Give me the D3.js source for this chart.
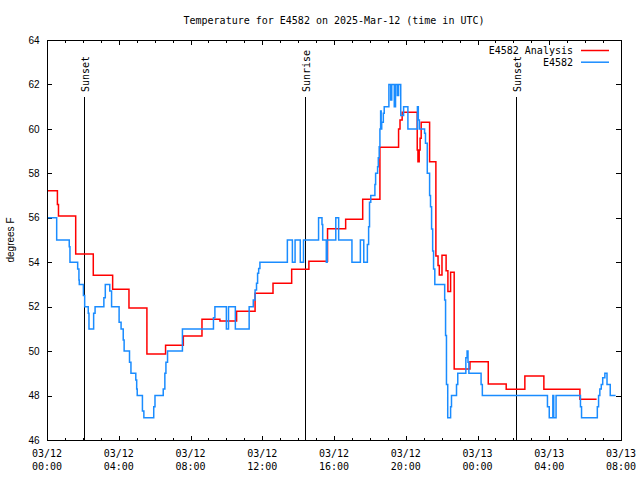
<!DOCTYPE html>
<html>
<head>
<meta charset="utf-8">
<script src="https://cdn.jsdelivr.net/npm/d3@7"></script>
<style>
  html, body { margin: 0; padding: 0; background: #fff; }
  svg { display: block; }
</style>
</head>
<body>
<svg id="chart" width="640" height="480"></svg>
<script>
// ---------------- data ----------------
const chartTitle = "Temperature for E4582 on 2025-Mar-12 (time in UTC)";
const yLabel = "degrees F";
const seriesNames = ["E4582 Analysis", "E4582"];
const seriesColors = ["#ff0000", "#1a8cff"];
const yTicks = [46, 48, 50, 52, 54, 56, 58, 60, 62, 64];
const xTickHours = [0, 4, 8, 12, 16, 20, 24, 28, 32];

// hours after 2025-03-12 00:00 UTC
const analysisHours = [0, 0.58, 0.64, 1.6, 2.58, 3.66, 4.57, 5.57, 6.61, 7.6, 8.64, 9.64, 10.57, 11.6, 12.6, 13.64, 14.6, 15.64, 16.65, 17.6, 18.56, 19.6, 19.68, 19.8, 20.64, 20.68, 20.75, 20.8, 20.86, 21.33, 21.68, 21.8, 21.87, 22.02, 22.25, 22.35, 22.5, 22.7, 23.58, 24.6, 25.6, 26.64, 27.7, 29.71, 30.64];
const analysisTemps = [57.22, 56.6, 56.08, 54.37, 53.41, 52.78, 51.94, 49.87, 50.26, 50.68, 51.43, 51.36, 51.79, 52.6, 53.05, 53.68, 54.04, 55.51, 55.93, 56.83, 59.17, 60.0, 60.4, 60.75, 59.05, 58.52, 59.05, 59.58, 60.3, 58.52, 54.28, 53.85, 53.43, 54.31, 53.62, 52.68, 53.55, 49.2, 49.52, 48.52, 48.28, 48.88, 48.28, 47.83, 47.83];

const obsHours = [0, 0.54, 1.24, 1.28, 1.71, 1.78, 1.8, 2.03, 2.1, 2.3, 2.34, 2.6, 2.68, 3.17, 3.25, 3.5, 3.6, 4.02, 4.13, 4.25, 4.3, 4.6, 4.68, 4.95, 5.0, 5.03, 5.32, 5.4, 5.95, 6.02, 6.48, 6.57, 6.63, 6.72, 7.55, 9.28, 9.36, 10.0, 10.12, 10.5, 11.27, 11.5, 11.6, 11.68, 11.74, 11.8, 11.87, 13.4, 13.68, 13.83, 14.12, 14.3, 15.14, 15.33, 15.37, 15.57, 15.62, 16.1, 16.26, 17.0, 17.47, 17.66, 17.86, 17.93, 17.98, 18.05, 18.28, 18.32, 18.43, 18.47, 18.52, 18.56, 18.6, 18.63, 18.66, 18.75, 18.8, 19.06, 19.16, 19.22, 19.36, 19.43, 19.53, 19.6, 19.72, 19.88, 20.12, 20.65, 20.7, 20.76, 21.05, 21.1, 21.2, 21.33, 21.38, 21.44, 21.5, 21.55, 21.62, 22.17, 22.22, 22.27, 22.34, 22.5, 22.55, 22.83, 22.9, 23.35, 23.42, 23.47, 23.52, 24.2, 24.27, 27.9, 28.0, 28.2, 28.25, 28.38, 29.74, 29.8, 30.68, 30.75, 30.82, 30.9, 30.98, 31.1, 31.22, 31.4, 31.7];
const obsTemps = [56, 55, 54.7, 54, 53.7, 53.2, 53, 52.5, 52, 51.7, 51, 51.7, 52, 52.4, 53, 52.7, 52, 51.3, 51, 50.5, 50, 49.5, 49, 48.7, 48.3, 48, 47.3, 47, 47.5, 48, 48.3, 49, 49.5, 50, 51, 51.5, 52, 51, 52, 51, 52, 52.3, 52.75, 53.05, 53.5, 53.72, 54, 55, 54, 55, 54, 55, 56, 55.7, 55, 54, 55, 56, 55, 54, 55, 54, 54.8, 55.6, 56.7, 57, 57.5, 58, 58.3, 58.7, 59.2, 60, 60.8, 60, 60.3, 60.7, 61, 62, 61.3, 62, 61, 62, 61.5, 62, 60.6, 61, 60, 61, 60.4, 60, 59.8, 59.35, 58, 57, 56.5, 55.5, 54.5, 53.7, 53, 52.3, 50.7, 48.5, 47, 47.5, 48, 48.5, 49, 49.7, 50, 49.5, 49, 48.5, 48, 47.5, 47, 48, 47, 48, 47.5, 47, 47.5, 48, 48.3, 48.5, 48.8, 49, 48.5, 48, 48];

const sunLabels = ["Sunset", "Sunrise", "Sunset"];
const sunHours = [2.08, 14.4, 26.16];

// ---------------- drawing ----------------
const T0 = Date.UTC(2025, 2, 12, 0, 0);
const H = 3600e3;
const toDate = h => new Date(T0 + h * H);

const svg = d3.select("#chart");
const L = 47, R = 621, T = 40, B = 440;
const mono = "'DejaVu Sans Mono', 'Liberation Mono', monospace";
const sans = "'Liberation Sans', Arial, sans-serif";

const x = d3.scaleUtc().domain([toDate(0), toDate(32)]).range([L, R]);
const y = d3.scaleLinear().domain([46, 64]).range([B, T]);

svg.append("rect").attr("width", 640).attr("height", 480).attr("fill", "#fff");

// title
svg.append("text").attr("x", (L + R) / 2).attr("y", 23.5)
  .attr("text-anchor", "middle").attr("font-family", mono).attr("font-size", 10)
  .text(chartTitle);

// axes ticks
const minorTicks = d3.range(0, 33).map(toDate);
const majorTicks = xTickHours.map(toDate);
function cleanAxis(g) { g.select(".domain").remove(); g.selectAll("line").attr("stroke", "#000").attr("shape-rendering", "crispEdges"); }

svg.append("g").attr("transform", `translate(0,${B})`)
  .call(d3.axisBottom(x).tickValues(minorTicks).tickSize(-2.5).tickFormat(""))
  .call(cleanAxis);
svg.append("g").attr("transform", `translate(0,${B})`)
  .call(d3.axisBottom(x).tickValues(majorTicks).tickSize(-4.5).tickFormat(""))
  .call(cleanAxis);
svg.append("g").attr("transform", `translate(0,${T})`)
  .call(d3.axisTop(x).tickValues(minorTicks).tickSize(-2.5).tickFormat(""))
  .call(cleanAxis);
svg.append("g").attr("transform", `translate(0,${T})`)
  .call(d3.axisTop(x).tickValues(majorTicks).tickSize(-4.5).tickFormat(""))
  .call(cleanAxis);

const fmtDay = d3.utcFormat("%m/%d"), fmtTime = d3.utcFormat("%H:%M");
const xl = svg.append("g").attr("font-family", mono).attr("font-size", 10).attr("text-anchor", "middle");
majorTicks.forEach(d => {
  xl.append("text").attr("x", x(d)).attr("y", 457).text(fmtDay(d));
  xl.append("text").attr("x", x(d)).attr("y", 470).text(fmtTime(d));
});

const yl = svg.append("g").attr("transform", `translate(${L},0)`)
  .call(d3.axisLeft(y).tickValues(yTicks).tickSizeInner(-5).tickSizeOuter(0).tickPadding(7.5).tickFormat(d3.format("d")))
  .call(cleanAxis);
yl.selectAll("text").attr("font-family", sans).attr("font-size", 10).attr("fill", "#000");
yl.selectAll(".tick").filter(d => d === 46 || d === 64).select("line").remove();
svg.append("g").attr("transform", `translate(${R},0)`)
  .call(d3.axisRight(y).tickValues(yTicks.filter(d => d > 46 && d < 64)).tickSize(-5).tickFormat(""))
  .call(cleanAxis);

svg.append("text").attr("transform", `translate(14,240) rotate(-90)`)
  .attr("text-anchor", "middle").attr("font-family", sans).attr("font-size", 10)
  .text(yLabel);

// sun lines
sunHours.forEach((h, i) => {
  const sx = Math.round(x(toDate(h))) + 0.5;
  svg.append("line").attr("x1", sx).attr("x2", sx).attr("y1", 97).attr("y2", B)
    .attr("stroke", "#000").attr("stroke-width", 1).attr("shape-rendering", "crispEdges");
  svg.append("text").attr("transform", `translate(${sx + 4},92) rotate(-90)`)
    .attr("font-family", mono).attr("font-size", 10).text(sunLabels[i]);
});

// series
const line = d3.line().x(d => x(d[0])).y(d => y(d[1])).curve(d3.curveStepAfter);
const analysis = analysisHours.map((h, i) => [toDate(h), analysisTemps[i]]);
const obs = obsHours.map((h, i) => [toDate(h), obsTemps[i]]);
[analysis, obs].forEach((data, i) => {
  svg.append("path").datum(data).attr("d", line)
    .attr("fill", "none").attr("stroke", seriesColors[i]).attr("stroke-width", 1.5)
    .attr("stroke-linejoin", "miter");
});

// border
svg.append("rect").attr("x", L + 0.5).attr("y", T + 0.5).attr("width", R - L).attr("height", B - T)
  .attr("fill", "none").attr("stroke", "#000").attr("stroke-width", 1).attr("shape-rendering", "crispEdges");

// legend
seriesNames.forEach((name, i) => {
  const ly = 50.5 + i * 11.7;
  svg.append("text").attr("x", 573).attr("y", ly + 3.7).attr("text-anchor", "end")
    .attr("font-family", mono).attr("font-size", 10).text(name);
  svg.append("line").attr("x1", 581).attr("x2", 609).attr("y1", ly).attr("y2", ly)
    .attr("stroke", seriesColors[i]).attr("stroke-width", 1.5);
});
</script>
</body>
</html>
